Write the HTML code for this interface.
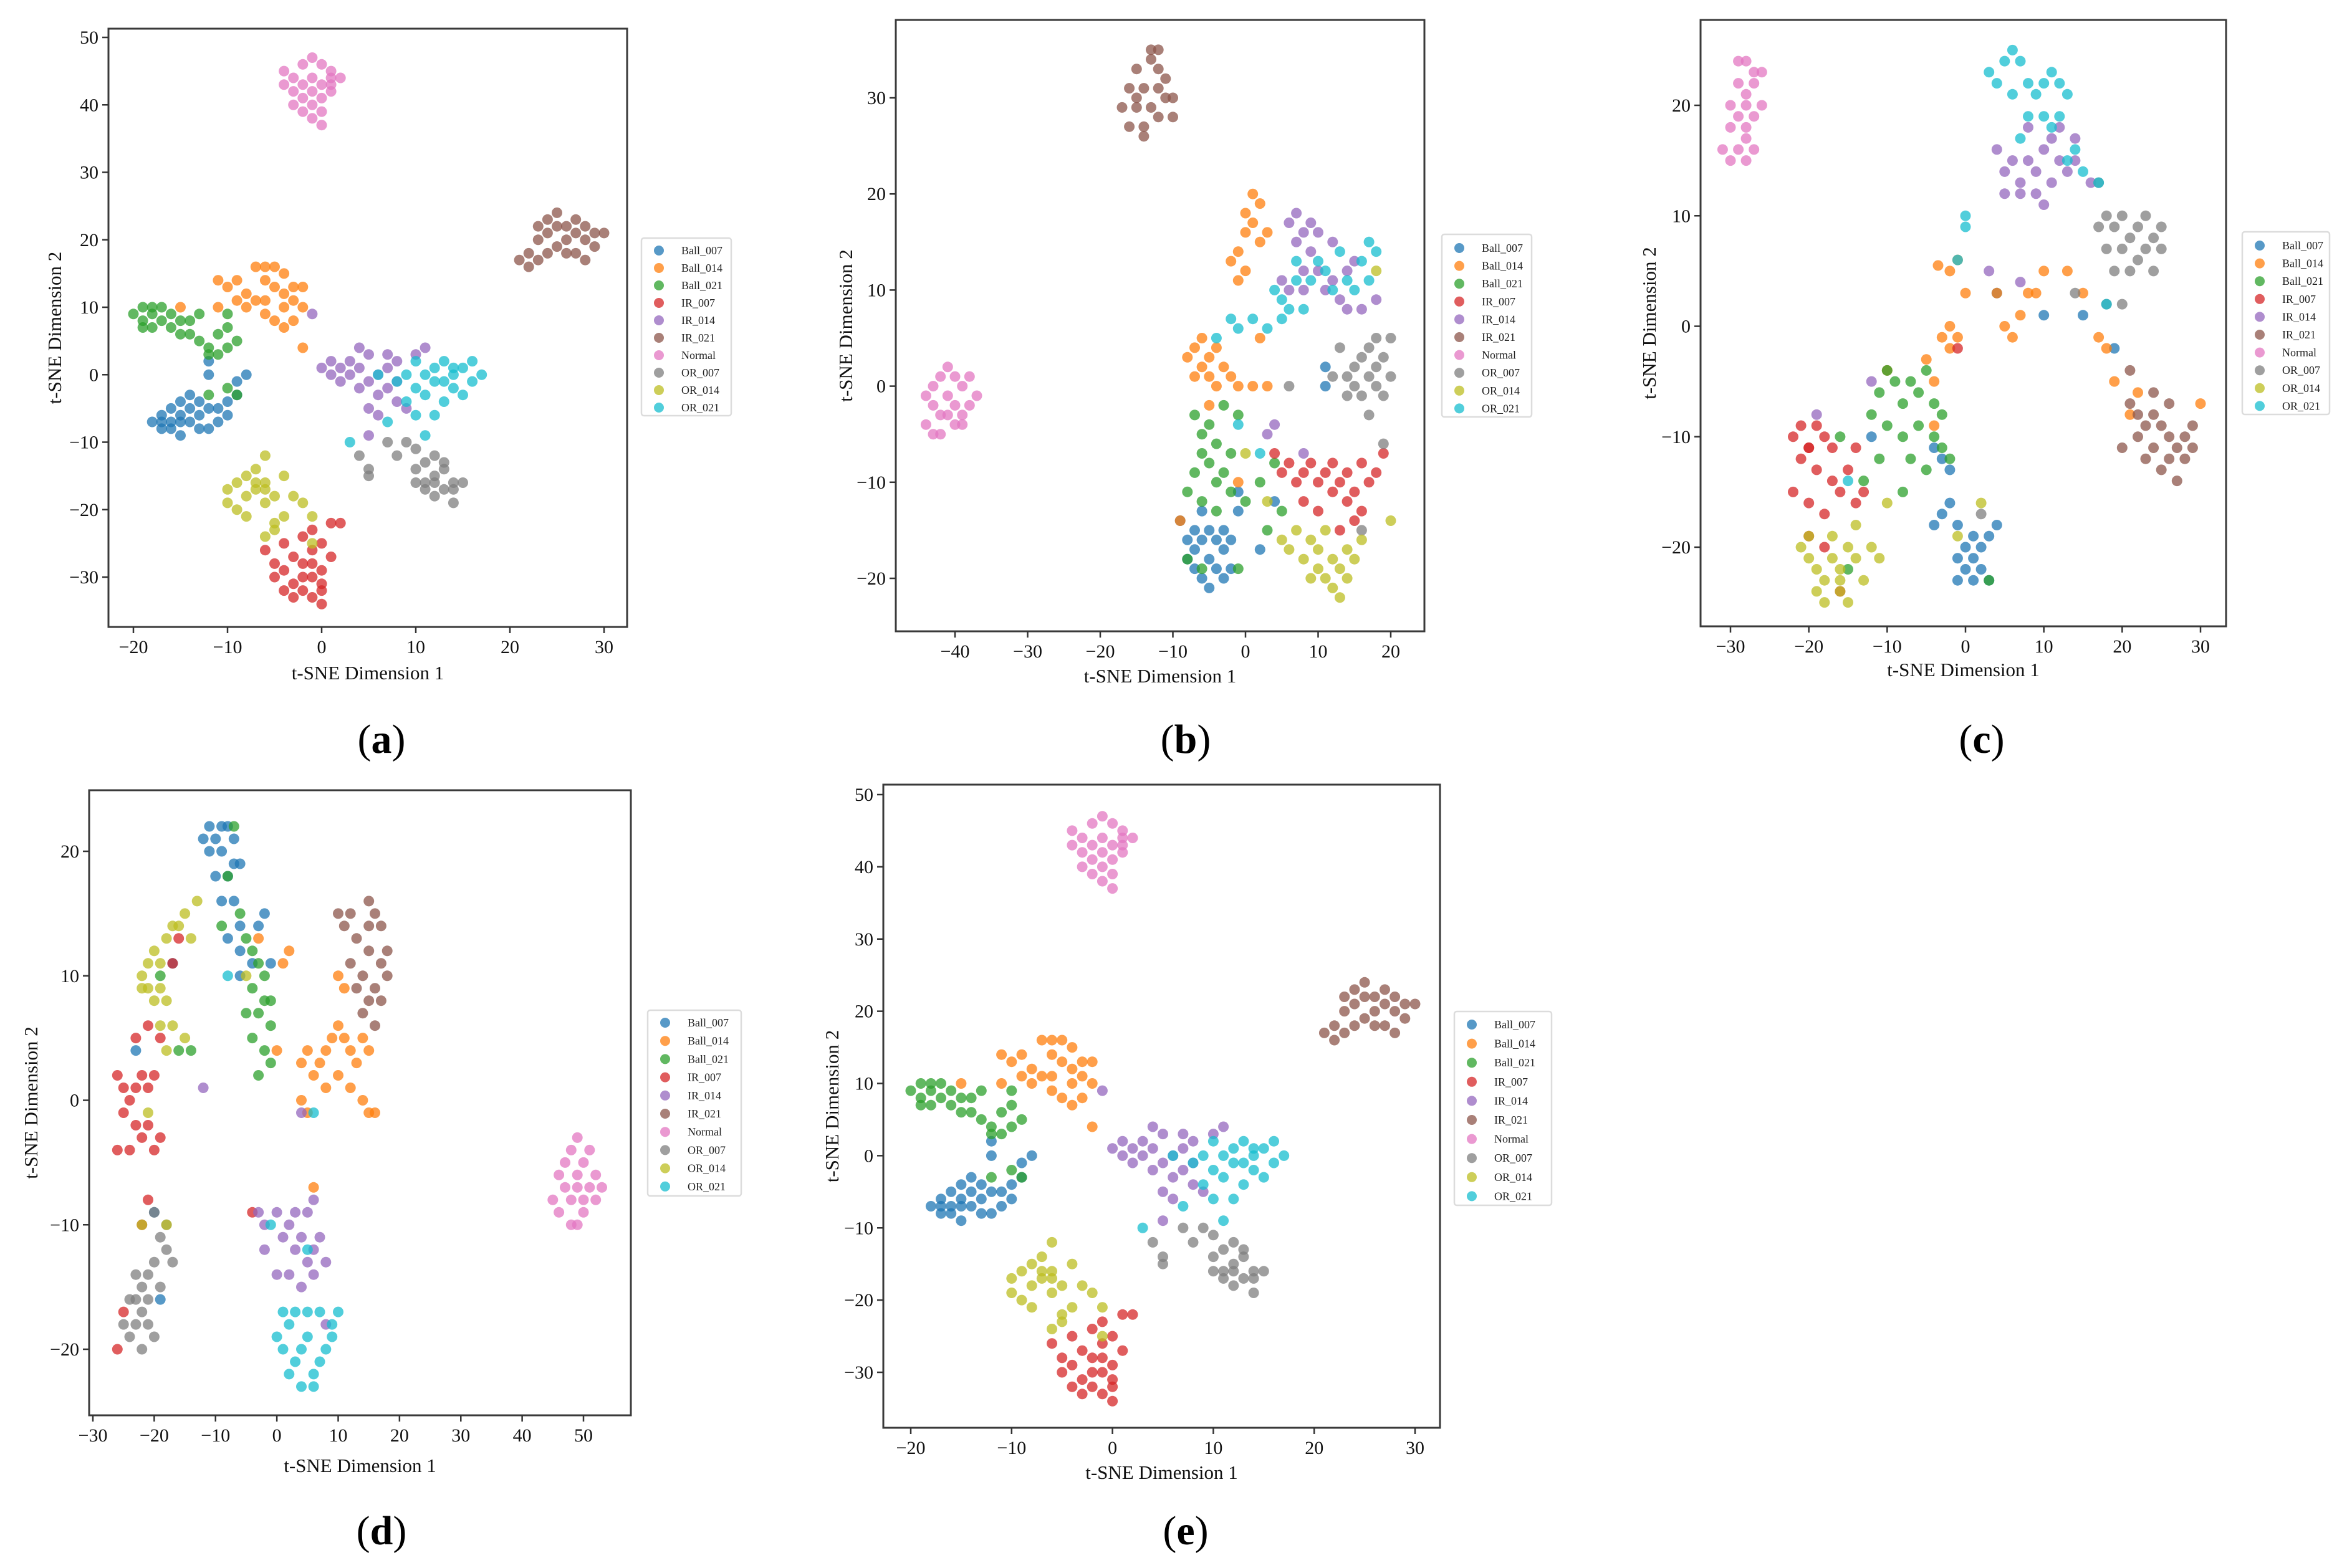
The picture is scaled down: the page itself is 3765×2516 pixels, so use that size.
<!DOCTYPE html>
<html><head><meta charset="utf-8">
<style>
html,body{margin:0;padding:0;background:#fff;}
svg{display:block;font-family:"Liberation Serif",serif;}
</style></head>
<body>
<svg id="fig" width="3765" height="2516" viewBox="0 0 3765 2516" xmlns="http://www.w3.org/2000/svg"></svg>
<script>
const classNames = ["Ball_007","Ball_014","Ball_021","IR_007","IR_014","IR_021","Normal","OR_007","OR_014","OR_021"];
const classColors = ["#1f77b4","#ff7f0e","#2ca02c","#d62728","#9467bd","#8c564b","#e377c2","#7f7f7f","#bcbd22","#17becf"];

// ---------- Panel A / E data ----------
const aBall007 = [[-18,-7],[-17,-6],[-17,-8],[-16,-5],[-16,-7],[-15,-4],[-15,-6],[-15,-9],[-14,-5],[-14,-7],[-13,-4],[-13,-6],[-12,-5],[-12,-8],[-11,-7],[-10,-6],[-10,-4],[-9,-3],[-9,-1],[-8,0],[-12,0],[-12,2],[-16,-8],[-13,-8],[-14,-3],[-11,-5],[-17,-7],[-15,-7]];
const aBall014 = [[-11,14],[-10,13],[-9,11],[-8,12],[-8,10],[-7,16],[-6,14],[-6,11],[-5,13],[-5,16],[-4,15],[-4,10],[-3,13],[-3,8],[-2,13],[-5,8],[-7,11],[-4,12],[-6,9],[-2,10],[-15,10],[-11,10],[-2,4],[-9,14],[-6,16],[-4,7],[-3,11]];
const aBall021 = [[-20,9],[-19,8],[-19,10],[-18,9],[-18,7],[-17,8],[-17,10],[-16,7],[-16,9],[-15,8],[-14,6],[-14,8],[-13,5],[-12,4],[-12,3],[-11,6],[-10,7],[-10,9],[-11,3],[-9,5],[-10,-2],[-12,-3],[-9,-3],[-15,6],[-19,7],[-18,10],[-13,9],[-10,4]];
const aIR007 = [[-6,-26],[-5,-30],[-5,-28],[-4,-25],[-4,-29],[-3,-27],[-3,-31],[-3,-33],[-2,-24],[-2,-28],[-2,-32],[-1,-23],[-1,-26],[-1,-30],[-1,-33],[0,-25],[0,-29],[0,-32],[1,-22],[1,-27],[2,-22],[-4,-32],[0,-34],[-2,-30],[-1,-28],[0,-31]];
const aIR014 = [[0,1],[1,2],[1,0],[2,1],[2,-1],[3,2],[3,0],[4,4],[4,1],[5,3],[5,-1],[6,0],[6,-3],[7,1],[7,-2],[8,2],[8,-1],[8,-4],[5,-5],[6,-6],[5,-9],[9,-5],[10,3],[11,4],[-1,9],[4,-2],[7,3]];
const aIR021 = [[21,17],[22,18],[22,16],[23,17],[23,20],[24,21],[24,23],[25,22],[25,19],[26,20],[26,22],[27,21],[27,18],[28,20],[28,22],[29,21],[29,19],[30,21],[24,18],[26,18],[23,22],[28,17],[25,24],[27,23]];
const aNormal = [[-3,44],[-2,46],[-1,47],[0,46],[1,45],[2,44],[-4,43],[-3,42],[-2,43],[-1,44],[0,43],[1,43],[-3,40],[-2,41],[-1,40],[0,39],[-1,38],[0,37],[-2,39],[1,42],[-4,45],[0,41],[-1,42],[1,44]];
const aOR007 = [[4,-12],[5,-14],[7,-10],[8,-12],[9,-10],[10,-11],[10,-14],[11,-13],[11,-16],[12,-12],[12,-15],[12,-18],[13,-14],[13,-17],[14,-16],[14,-19],[15,-16],[11,-17],[13,-13],[5,-15],[12,-16],[10,-16],[14,-17]];
const aOR014 = [[-10,-17],[-10,-19],[-9,-16],[-9,-20],[-8,-15],[-8,-18],[-7,-17],[-7,-14],[-6,-16],[-6,-19],[-5,-18],[-5,-22],[-4,-15],[-4,-21],[-3,-18],[-2,-19],[-6,-24],[-1,-21],[-1,-25],[-6,-12],[-8,-21],[-7,-16],[-6,-17],[-5,-23]];
const aOR021 = [[8,-1],[9,0],[9,-4],[10,2],[10,-2],[10,-6],[11,0],[11,-3],[12,1],[12,-6],[13,-1],[13,2],[13,-4],[14,0],[14,-2],[15,1],[15,-3],[16,2],[16,-1],[17,0],[11,-9],[7,-7],[6,0],[3,-10],[12,-1],[14,1]];

// ---------- Panel B data ----------
const bBall007 = [[-9,-14],[-8,-16],[-8,-18],[-7,-15],[-7,-17],[-7,-19],[-6,-16],[-6,-20],[-5,-15],[-5,-18],[-5,-21],[-4,-16],[-4,-19],[-3,-15],[-3,-17],[-3,-20],[-2,-16],[-2,-19],[-1,-11],[-1,-13],[2,-17],[4,-12],[11,2],[11,0],[-6,-13]];
const bBall014 = [[1,20],[2,19],[0,18],[1,17],[0,16],[2,15],[-1,14],[0,12],[-2,13],[-1,11],[3,16],[-8,3],[-7,4],[-6,5],[-6,2],[-5,3],[-5,1],[-4,4],[-4,0],[-3,2],[-7,1],[-2,1],[-1,0],[1,0],[3,0],[-5,-2],[-9,-14],[-1,-10],[2,5]];
const bBall021 = [[-7,-3],[-6,-5],[-6,-7],[-5,-4],[-5,-8],[-4,-6],[-4,-10],[-7,-9],[-8,-11],[-6,-12],[-3,-9],[-2,-11],[-1,-3],[-2,-7],[-4,-13],[-8,-18],[-6,-19],[-1,-19],[2,-10],[3,-15],[5,-13],[4,-8],[-3,-2],[0,-12]];
const bIR007 = [[5,-9],[6,-8],[7,-10],[8,-9],[8,-12],[9,-8],[10,-10],[10,-13],[11,-9],[12,-11],[12,-8],[13,-10],[14,-12],[14,-9],[15,-11],[15,-14],[16,-8],[17,-10],[18,-9],[16,-13],[19,-7],[13,-15],[4,-7]];
const bIR014 = [[6,17],[7,18],[8,16],[9,17],[10,16],[7,15],[9,14],[12,15],[8,12],[10,12],[12,11],[14,12],[5,11],[6,10],[8,10],[11,10],[13,9],[14,8],[16,8],[18,9],[15,13],[4,-4],[3,-5],[8,-7]];
const bOR007 = [[13,4],[14,1],[15,2],[15,0],[16,3],[16,-1],[17,1],[17,4],[18,0],[18,2],[19,3],[19,-1],[20,1],[20,5],[18,5],[14,-1],[12,1],[17,-3],[19,-6],[6,0],[16,-15]];
const bOR021 = [[4,10],[5,9],[5,7],[6,8],[7,11],[7,13],[8,8],[9,11],[10,13],[11,12],[12,10],[13,14],[14,11],[16,13],[17,11],[18,14],[17,15],[15,10],[-2,7],[-1,6],[1,7],[3,6],[-4,5],[-1,-4],[2,-7]];
const bOR014 = [[5,-16],[6,-17],[7,-15],[8,-18],[9,-16],[10,-19],[10,-17],[11,-20],[12,-18],[12,-21],[13,-19],[13,-22],[14,-17],[14,-20],[15,-18],[16,-16],[11,-15],[9,-20],[20,-14],[3,-12],[18,12],[0,-7]];
const bIR021 = [[-15,33],[-13,34],[-12,33],[-16,31],[-14,31],[-12,31],[-11,32],[-17,29],[-15,29],[-13,29],[-11,30],[-10,30],[-14,27],[-12,28],[-16,27],[-14,26],[-10,28],[-13,35],[-12,35],[-15,30]];
const bNormal = [[-44,-1],[-43,0],[-42,1],[-41,2],[-40,1],[-39,0],[-38,1],[-37,-1],[-43,-2],[-42,-3],[-41,-1],[-40,-2],[-39,-3],[-38,-2],[-44,-4],[-42,-5],[-40,-4],[-39,-4],[-41,-3],[-43,-5]];

// ---------- Panel C data ----------
const cBall007 = [[-3,-17],[-2,-16],[-4,-18],[-1,-18],[0,-20],[1,-19],[2,-20],[3,-19],[-1,-21],[0,-22],[1,-21],[2,-22],[3,-23],[-1,-23],[1,-23],[4,-18],[-2,-13],[-3,-12],[-4,-11],[4,3],[10,1],[15,1],[19,-2],[-12,-10]];
const cBall014 = [[-3.5,5.5],[-2,5],[-1,6],[0,3],[4,3],[7,1],[8,3],[10,5],[13,5],[15,3],[17,-1],[18,-2],[-3,-1],[-1,-1],[-2,-2],[-4,-5],[-10,-4],[-4,-9],[19,-5],[22,-6],[30,-7],[21,-8],[6,-1],[5,0],[9,3],[-2,0],[-5,-3]];
const cBall021 = [[-12,-8],[-11,-6],[-10,-4],[-9,-5],[-8,-7],[-7,-5],[-6,-6],[-5,-4],[-4,-7],[-3,-8],[-10,-9],[-8,-10],[-6,-9],[-4,-10],[-3,-11],[-2,-12],[-7,-12],[-5,-13],[-11,-12],[-13,-14],[-16,-10],[-8,-15],[-15,-22],[3,-23]];
const cIR007 = [[-22,-10],[-21,-9],[-20,-11],[-19,-9],[-18,-10],[-17,-11],[-21,-12],[-19,-13],[-17,-14],[-22,-15],[-20,-16],[-18,-17],[-16,-15],[-14,-16],[-15,-13],[-20,-19],[-18,-20],[-14,-11],[-13,-15],[-16,-24],[-1,-2],[-20,-11]];
const cIR014 = [[4,16],[5,14],[6,15],[7,13],[8,15],[9,14],[10,16],[11,17],[12,15],[13,14],[14,15],[5,12],[7,12],[9,12],[11,13],[8,18],[12,18],[14,17],[16,13],[10,11],[3,5],[7,4],[-19,-8],[-12,-5]];
const cOR007 = [[17,9],[18,10],[19,9],[20,10],[21,8],[22,9],[23,10],[24,8],[25,9],[18,7],[20,7],[22,6],[23,7],[24,5],[21,5],[25,7],[19,5],[17,13],[14,3],[18,2],[20,2],[2,-17]];
const cOR014 = [[-21,-20],[-20,-21],[-19,-22],[-18,-23],[-17,-21],[-16,-22],[-15,-20],[-14,-21],[-13,-23],[-16,-24],[-18,-25],[-15,-25],[-17,-19],[-14,-18],[-12,-20],[-10,-16],[-11,-21],[-20,-19],[-19,-24],[-1,-19],[2,-16],[-16,-23]];
const cOR021 = [[5,24],[6,25],[7,24],[8,22],[6,21],[4,22],[3,23],[9,21],[10,22],[11,23],[12,22],[13,21],[8,19],[10,19],[12,19],[11,18],[7,17],[14,16],[15,14],[17,13],[13,15],[0,10],[0,9],[-1,6],[18,2],[-15,-14]];
const cIR021 = [[21,-7],[22,-8],[23,-9],[24,-8],[25,-9],[26,-10],[27,-11],[28,-10],[29,-9],[22,-10],[24,-11],[26,-12],[28,-12],[25,-13],[27,-14],[29,-11],[23,-12],[20,-11],[26,-7],[24,-6],[21,-4]];
const cNormal = [[-28,24],[-27,23],[-29,22],[-28,21],[-27,22],[-30,20],[-29,19],[-28,20],[-27,19],[-26,20],[-30,18],[-28,18],[-29,16],[-28,15],[-27,16],[-30,15],[-28,17],[-31,16],[-26,23],[-29,24]];

// ---------- Panel D data ----------
const dBall007 = [[-12,21],[-11,22],[-10,21],[-9,22],[-8,22],[-7,21],[-11,20],[-9,20],[-7,19],[-10,18],[-8,18],[-6,19],[-9,16],[-7,16],[-6,14],[-8,13],[-6,12],[-4,11],[-3,14],[-2,15],[-1,11],[-6,10],[-19,-16],[-20,-9],[-17,11],[-23,4]];
const dBall014 = [[4,3],[5,4],[6,2],[7,3],[8,4],[9,5],[10,6],[11,5],[12,4],[13,3],[14,5],[15,4],[8,1],[10,2],[5,-1],[4,0],[15,-1],[14,0],[16,-1],[12,1],[10,10],[11,9],[1,11],[2,12],[0,4],[-3,13],[6,-7]];
const dBall021 = [[-7,22],[-8,18],[-9,14],[-5,13],[-4,12],[-3,11],[-2,10],[-4,9],[-2,8],[-3,7],[-1,6],[-4,5],[-2,4],[-1,3],[-3,2],[-5,7],[-1,8],[-6,15],[-16,4],[-19,10],[-14,4]];
const dIR007 = [[-26,2],[-25,1],[-24,0],[-23,1],[-22,2],[-21,1],[-20,2],[-25,-1],[-23,-2],[-21,-2],[-19,-3],[-26,-4],[-24,-4],[-22,-3],[-20,-4],[-23,5],[-21,6],[-19,5],[-16,13],[-17,11],[-21,-8],[-22,-10],[-26,-20],[-25,-17],[-4,-9]];
const dIR014 = [[-2,-10],[0,-9],[1,-11],[2,-10],[3,-12],[4,-11],[5,-13],[6,-12],[7,-11],[8,-13],[2,-14],[4,-15],[6,-14],[3,-9],[5,-9],[6,-8],[-2,-12],[-3,-9],[0,-14],[-12,1],[4,-1],[8,-18]];
const dIR021 = [[10,15],[11,14],[12,15],[15,16],[16,15],[17,14],[13,13],[15,12],[17,11],[14,10],[16,9],[13,9],[15,8],[17,8],[16,6],[14,7],[18,12],[18,10],[15,14],[12,11]];
const dNormal = [[49,-3],[48,-4],[50,-5],[51,-4],[52,-6],[46,-6],[47,-7],[48,-8],[49,-7],[50,-8],[51,-7],[53,-7],[45,-8],[46,-9],[48,-10],[50,-9],[49,-6],[47,-5],[52,-8],[49,-10]];
const dOR007 = [[-20,-9],[-19,-11],[-18,-12],[-20,-13],[-21,-14],[-22,-15],[-23,-16],[-24,-16],[-22,-17],[-21,-18],[-23,-18],[-24,-19],[-22,-20],[-20,-19],[-21,-16],[-19,-15],[-17,-13],[-23,-14],[-25,-18],[-18,-10]];
const dOR014 = [[-22,10],[-21,11],[-20,12],[-19,11],[-18,13],[-17,14],[-16,14],[-15,15],[-14,13],[-21,9],[-19,9],[-22,9],[-20,8],[-18,8],[-19,6],[-17,6],[-15,5],[-18,4],[-13,16],[-22,-10],[-21,-1],[-18,-10],[-5,10]];
const dOR021 = [[0,-19],[1,-20],[2,-18],[3,-21],[4,-20],[5,-19],[6,-22],[7,-21],[8,-20],[9,-19],[2,-22],[4,-23],[6,-23],[1,-17],[3,-17],[5,-17],[7,-17],[9,-18],[10,-17],[-1,-10],[5,-12],[6,-1],[-8,10]];

// ---------- Layout of panels (axis pixel calibration) ----------
const panels = [
  {id:"a", box:[174,46,1006,1006], xr:[-20,30,214,969], yr:[50,-30,60,926], xt:[-20,-10,0,10,20,30], yt:[-30,-20,-10,0,10,20,30,40,50], leg:[1029,382,144,285,16,28], xTitleY:1080, yTitleX:88, label:[612,1208],
   data:[aBall007,aBall014,aBall021,aIR007,aIR014,aIR021,aNormal,aOR007,aOR014,aOR021]},
  {id:"b", box:[1437,32,2285,1013], xr:[-40,20,1532,2231], yr:[30,-20,157,928], xt:[-40,-30,-20,-10,0,10,20], yt:[-20,-10,0,10,20,30], leg:[2313,376,144,293,18,28.6], xTitleY:1085, yTitleX:1357, label:[1902,1208],
   data:[bBall007,bBall014,bBall021,bIR007,bIR014,bIR021,bNormal,bOR007,bOR014,bOR021]},
  {id:"c", box:[2728,32,3571,1005], xr:[-30,30,2776,3530], yr:[20,-20,169,878], xt:[-30,-20,-10,0,10,20,30], yt:[-20,-10,0,10,20], leg:[3597,372,140,293,18,28.6], xTitleY:1075, yTitleX:2646, label:[3179,1208],
   data:[cBall007,cBall014,cBall021,cIR007,cIR014,cIR021,cNormal,cOR007,cOR014,cOR021]},
  {id:"d", box:[143,1268,1012,2271], xr:[-30,50,149,936], yr:[20,-20,1366,2165], xt:[-30,-20,-10,0,10,20,30,40,50], yt:[-20,-10,0,10,20], leg:[1039,1621,150,298,16,29.2], xTitleY:2352, yTitleX:50, label:[612,2478],
   data:[dBall007,dBall014,dBall021,dIR007,dIR014,dIR021,dNormal,dOR007,dOR014,dOR021]},
  {id:"e", box:[1417,1259,2310,2291], xr:[-20,30,1461,2270], yr:[50,-30,1275,2202], xt:[-20,-10,0,10,20,30], yt:[-30,-20,-10,0,10,20,30,40,50], leg:[2333,1623,156,311,17,30.6], xTitleY:2363, yTitleX:1335, label:[1902,2478],
   data:[aBall007,aBall014,aBall021,aIR007,aIR014,aIR021,aNormal,aOR007,aOR014,aOR021]}
];

const NS = "http://www.w3.org/2000/svg";
const svg = document.getElementById("fig");
function mk(tag, attrs, parent){
  const el = document.createElementNS(NS, tag);
  for (const k in attrs) el.setAttribute(k, attrs[k]);
  parent.appendChild(el);
  return el;
}
function fmt(v){ return v < 0 ? "\u2212" + Math.abs(v) : String(v); }

panels.forEach(p => {
  const g = mk("g", {}, svg);
  
  
  const sx = v => p.xr[2] + (v - p.xr[0]) * (p.xr[3] - p.xr[2]) / (p.xr[1] - p.xr[0]);
  const sy = v => p.yr[2] + (v - p.yr[0]) * (p.yr[3] - p.yr[2]) / (p.yr[1] - p.yr[0]);
  const [x0,y0,x1,y1] = p.box;

  const pg = mk("g", {}, g);
  
  
  p.data.forEach((arr, ci) => {
    const cg = mk("g", {fill: classColors[ci], "fill-opacity": "0.75"}, pg);
    
    
    arr.forEach(pt => {
      const c = mk("circle", {cx: sx(pt[0]).toFixed(1), cy: sy(pt[1]).toFixed(1), r: 8.5}, cg);
      
      
    });
  });

  const fr = mk("rect", {x:x0, y:y0, width:x1-x0, height:y1-y0, fill:"none", stroke:"#3a3a3a", "stroke-width":3}, g);
  
  

  p.xt.forEach(v => {
    const X = sx(v);
    const t = mk("line", {x1:X, y1:y1, x2:X, y2:y1+10, stroke:"#333", "stroke-width":2.5}, g);
    
    
    const lb = mk("text", {x:X, y:y1+42, "text-anchor":"middle", "font-size":30, fill:"#111"}, g);
    lb.textContent = fmt(v);
    
    
  });
  p.yt.forEach(v => {
    const Y = sy(v);
    const t = mk("line", {x1:x0-10, y1:Y, x2:x0, y2:Y, stroke:"#333", "stroke-width":2.5}, g);
    
    
    const lb = mk("text", {x:x0-16, y:Y+10, "text-anchor":"end", "font-size":30, fill:"#111"}, g);
    lb.textContent = fmt(v);
    
    
  });

  const xt = mk("text", {x:(x0+x1)/2, y:p.xTitleY+10, "text-anchor":"middle", "font-size":31, fill:"#111"}, g);
  xt.textContent = "t-SNE Dimension 1";
  
  
  const yc = (y0+y1)/2;
  const yt = mk("text", {x:p.yTitleX+10, y:yc, "text-anchor":"middle", "font-size":31, fill:"#111", transform:"rotate(-90 "+(p.yTitleX+10)+" "+yc+")"}, g);
  yt.textContent = "t-SNE Dimension 2";
  
  

  const [lx,ly,lw,lh,off,sp] = p.leg;
  const lg = mk("g", {}, g);
  
  
  mk("rect", {x:lx, y:ly, width:lw, height:lh, rx:4, fill:"#fff", stroke:"#dcdcdc", "stroke-width":2.5}, lg);
  classNames.forEach((n, i) => {
    const cy = ly + off + 4 + i*sp;
    const e = mk("g", {}, lg);
    
    
    mk("circle", {cx:lx+28, cy:cy, r:8, fill:classColors[i], "fill-opacity":"0.75"}, e);
    const tx = mk("text", {x:lx+64, y:cy+6, "font-size":18, fill:"#222"}, e);
    tx.textContent = n;
  });

  const lab = mk("text", {x:p.label[0], y:p.label[1], "text-anchor":"middle", "font-size":66, fill:"#000"}, g);
  
  
  const s1 = mk("tspan", {}, lab); s1.textContent = "(";
  const s2 = mk("tspan", {"font-weight":"bold"}, lab); s2.textContent = p.id;
  const s3 = mk("tspan", {}, lab); s3.textContent = ")";
});
</script>
</body></html>
